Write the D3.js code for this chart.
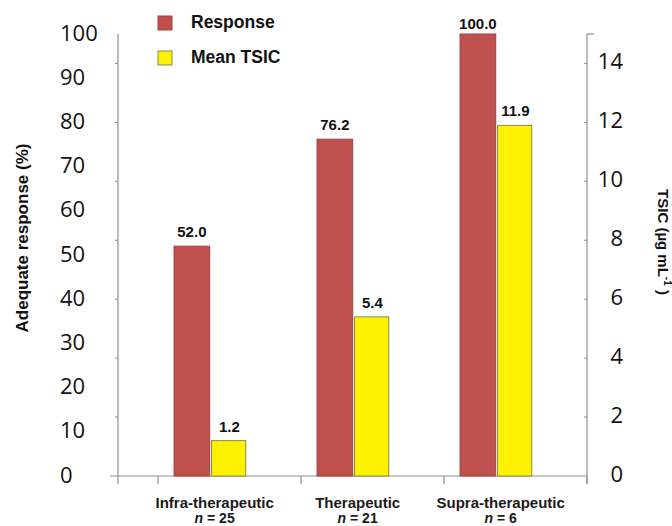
<!DOCTYPE html>
<html>
<head>
<meta charset="utf-8">
<script src="https://cdn.jsdelivr.net/npm/d3@7/dist/d3.min.js"></script>
<style>
  html, body { margin: 0; padding: 0; background: #fff; }
  svg { display: block; }
</style>
</head>
<body>
<svg id="chart" width="672" height="526"></svg>
<script>
// ---- data ----
const categories = ["Infra-therapeutic", "Therapeutic", "Supra-therapeutic"];
const groupSizes = ["n = 25", "n = 21", "n = 6"];
const responseValues = [52.0, 76.2, 100.0];
const tsicValues = [1.2, 5.4, 11.9];
const seriesNames = ["Response", "Mean TSIC"];
const leftTicks = [0, 10, 20, 30, 40, 50, 60, 70, 80, 90, 100];
const rightTicks = [0, 2, 4, 6, 8, 10, 12, 14];

// ---- layout ----
const W = 672, H = 526;
const plotLeft = 118, plotRight = 587, plotTop = 34, plotBottom = 476;
const catStart = 158;
const colors = { "Response": "#c0504d", "Mean TSIC": "#fff200" };
const strokes = { "Response": "#a3423f", "Mean TSIC": "#8a8a4a" };
const axisColor = "#8f8f8f";

const svg = d3.select("#chart");

const yL = d3.scaleLinear().domain([0, 100]).range([plotBottom, plotTop]);
const yR = d3.scaleLinear().domain([0, 15]).range([plotBottom, plotTop]);
const x0 = d3.scaleBand().domain(categories).range([catStart, plotRight]).padding(0);
const x1 = d3.scaleBand().domain(seriesNames).range([0, x0.bandwidth()])
  .paddingInner(0.05).paddingOuter(0.93).align(0.23);

const scaleFor = { "Response": yL, "Mean TSIC": yR };
const valuesFor = { "Response": responseValues, "Mean TSIC": tsicValues };

// ---- axes lines ----
const g = svg.append("g");
g.append("line").attr("x1", plotLeft).attr("x2", plotLeft)
  .attr("y1", yL.range()[1]).attr("y2", yL(0) + 8)
  .attr("stroke", axisColor).attr("stroke-width", 1.2);
g.append("line").attr("x1", plotRight).attr("x2", plotRight)
  .attr("y1", yR.range()[1]).attr("y2", yR(0) + 8)
  .attr("stroke", axisColor).attr("stroke-width", 1.2);
g.append("line").attr("x1", plotRight).attr("x2", plotRight + 7)
  .attr("y1", yR.range()[1]).attr("y2", yR.range()[1])
  .attr("stroke", axisColor).attr("stroke-width", 1.2);
// baseline
g.append("line").attr("x1", plotLeft - 8).attr("x2", plotRight)
  .attr("y1", yL(0)).attr("y2", yL(0))
  .attr("stroke", axisColor).attr("stroke-width", 1.2);
// category ticks
const tickXs = categories.map(c => x0(c)).concat([x0.range()[1]]);
g.selectAll("line.ctick").data(tickXs).enter().append("line")
  .attr("class", "ctick")
  .attr("x1", d => d).attr("x2", d => d)
  .attr("y1", yL(0)).attr("y2", yL(0) + 8)
  .attr("stroke", axisColor).attr("stroke-width", 1.2);
// small tick marks on both vertical axes (secondary scale spacing)
[plotLeft, plotRight].forEach(ax => {
  g.selectAll(null).data(rightTicks.slice(1)).enter().append("line")
    .attr("x1", ax - 3).attr("x2", ax)
    .attr("y1", d => yR(d)).attr("y2", d => yR(d))
    .attr("stroke", axisColor).attr("stroke-width", 1);
});

// ---- bars ----
const barData = [];
categories.forEach((c, i) => {
  seriesNames.forEach(s => {
    barData.push({ cat: c, series: s, value: valuesFor[s][i] });
  });
});
svg.append("g").selectAll("rect").data(barData).enter().append("rect")
  .attr("x", d => x0(d.cat) + x1(d.series))
  .attr("width", d => x1.bandwidth() - (d.series === "Mean TSIC" ? 1.5 : 0))
  .attr("y", d => scaleFor[d.series](d.value))
  .attr("height", d => plotBottom - scaleFor[d.series](d.value))
  .attr("fill", d => colors[d.series])
  .attr("stroke", d => strokes[d.series])
  .attr("stroke-width", 1);

// value labels
svg.append("g").selectAll("text").data(barData).enter().append("text")
  .attr("x", d => x0(d.cat) + x1(d.series) + x1.bandwidth() / 2)
  .attr("y", d => Math.max(scaleFor[d.series](d.value) - 9, plotTop - 5))
  .attr("text-anchor", "middle")
  .attr("font-family", "'Liberation Sans', Arial, sans-serif")
  .attr("font-weight", "bold")
  .attr("font-size", 15)
  .attr("fill", "#111")
  .text(d => d.value.toFixed(1));

// ---- tick labels ----
svg.append("g").selectAll("text").data(leftTicks).enter().append("text")
  .attr("x", 60)
  .attr("y", d => yL(d) - 2.5)
  .attr("dominant-baseline", "central")
  .attr("text-anchor", "start")
  .attr("font-family", "'Open Sans', sans-serif")
  .attr("font-size", 22)
  .attr("fill", "#111")
  .text(d => d);
svg.append("g").selectAll("text").data(rightTicks).enter().append("text")
  .attr("x", 623)
  .attr("y", d => yR(d) - 3)
  .attr("dominant-baseline", "central")
  .attr("text-anchor", "end")
  .attr("font-family", "'Open Sans', sans-serif")
  .attr("font-size", 22)
  .attr("fill", "#111")
  .text(d => d);

// ---- category labels ----
const groupCenter = c => x0(c) + (x1(seriesNames[0]) + x1(seriesNames[1]) + x1.bandwidth()) / 2 + 4;
const catG = svg.append("g").attr("font-family", "'Liberation Sans', Arial, sans-serif")
  .attr("font-weight", "bold").attr("fill", "#1a1a1a");
catG.selectAll("text.cat").data(categories).enter().append("text")
  .attr("class", "cat")
  .attr("x", d => groupCenter(d))
  .attr("y", 508)
  .attr("text-anchor", "middle")
  .attr("font-size", 15)
  .text(d => d);
catG.selectAll("text.n").data(categories).enter().append("text")
  .attr("class", "n")
  .attr("x", d => groupCenter(d))
  .attr("y", 523)
  .attr("text-anchor", "middle")
  .attr("font-size", 14)
  .each(function(d, i) {
    const t = d3.select(this);
    const parts = groupSizes[i].split(" = ");
    t.append("tspan").attr("font-style", "italic").text(parts[0]);
    t.append("tspan").text(" = " + parts[1]);
  });

// ---- axis titles ----
svg.append("text")
  .attr("transform", "translate(28,238) rotate(-90)")
  .attr("text-anchor", "middle")
  .attr("font-family", "'Liberation Sans', Arial, sans-serif")
  .attr("font-weight", "bold")
  .attr("font-size", 17)
  .attr("fill", "#111")
  .text("Adequate response (%)");

const rt = svg.append("text")
  .attr("transform", "translate(658,242) rotate(90)")
  .attr("text-anchor", "middle")
  .attr("font-family", "'Liberation Sans', Arial, sans-serif")
  .attr("font-weight", "bold")
  .attr("font-size", 15)
  .attr("fill", "#111");
rt.append("tspan").text("TSIC (µg mL");
rt.append("tspan").attr("font-size", 10).attr("dy", -6).text("-1");
rt.append("tspan").attr("dy", 6).text(" )");

// ---- legend ----
const legend = svg.append("g");
const legendItems = seriesNames.map((s, i) => ({ s, i }));
const legY = [23, 58];
legend.selectAll("rect").data(legendItems).enter().append("rect")
  .attr("x", 158).attr("y", d => legY[d.i] - 7)
  .attr("width", 14).attr("height", 14)
  .attr("fill", d => colors[d.s])
  .attr("stroke", d => strokes[d.s]).attr("stroke-width", 1);
legend.selectAll("text").data(legendItems).enter().append("text")
  .attr("x", 191).attr("y", d => legY[d.i] - 1)
  .attr("dominant-baseline", "central")
  .attr("font-family", "'Liberation Sans', Arial, sans-serif")
  .attr("font-weight", "bold")
  .attr("font-size", 17.5)
  .attr("fill", "#111")
  .text(d => d.s);
</script>
</body>
</html>
